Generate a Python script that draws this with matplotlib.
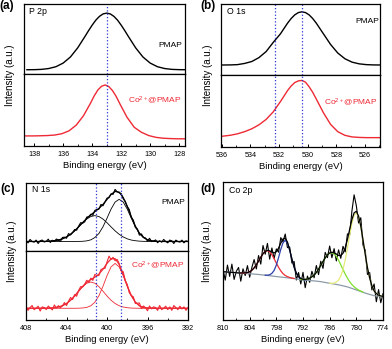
import matplotlib
matplotlib.use('Agg')
import matplotlib.pyplot as plt
from matplotlib.ticker import MultipleLocator

plt.rcParams['font.family'] = ['Liberation Sans', 'DejaVu Sans']
plt.rcParams['mathtext.fontset'] = 'custom'
plt.rcParams['mathtext.rm'] = 'Liberation Sans'
plt.rcParams['mathtext.it'] = 'Liberation Sans:italic'
plt.rcParams['mathtext.bf'] = 'Liberation Sans:bold'

# ---------------- data ----------------
# (a) P 2p
a_x_pmap = [138.5, 138.0, 137.5, 137.0, 136.5, 136.0, 135.5, 135.0,
            134.5, 134.25, 134.0, 133.75, 133.5, 133.25, 133.0, 132.75, 132.5, 132.25, 132.0, 131.75, 131.5,
            131.0, 130.5, 130.0, 129.5, 129.0, 128.5, 128.0, 127.5]
a_pmap = [.061, .062, .066, .078, .104, .156, .243, .373,
          .535, .619, .698, .769, .823, .858, .870, .858, .823, .769, .698, .619, .535,
          .373, .243, .156, .104, .078, .066, .062, .061]
a_x_co = [138.6, 138.1, 137.6, 137.1, 136.6, 136.1, 135.6, 135.1, 134.6, 134.1,
          133.85, 133.6, 133.35, 133.1, 132.85, 132.6, 132.35, 132.1,
          131.6, 131.1, 130.6, 130.1, 129.6, 129.1, 128.6, 128.1, 127.6]
a_co = [.140, .140, .142, .145, .152, .170, .210, .290, .420, .600,
        .700, .780, .830, .848, .825, .770, .690, .590,
        .400, .260, .190, .145, .120, .108, .103, .100, .100]
a_lines = [133.0]

# (b) O 1s
b_x = [536.4, 535.9, 535.4, 534.9, 534.4, 533.9, 533.4, 532.9, 532.4, 531.9, 531.4,
       531.15, 530.9, 530.65, 530.4, 530.15, 529.9, 529.65,
       529.4, 528.9, 528.4, 527.9, 527.4, 526.9, 526.4, 525.9, 525.4, 524.9]
b_pmap = [.140, .141, .142, .146, .163, .190, .245, .330, .460, .580, .731,
          .796, .847, .879, .890, .879, .847, .796,
          .731, .580, .430, .310, .229, .181, .157, .146, .142, .141]
b_co = [.145, .151, .163, .183, .213, .253, .308, .383, .489, .631, .785,
        .848, .895, .918, .925, .900, .837, .760,
        .667, .476, .314, .213, .162, .140, .133, .130, .130, .130]
b_lines = [532.3, 530.4]

# (c) N 1s
c_fit_x = [408.0, 407.6, 407.2, 406.8, 406.4, 406.0, 405.6, 405.2, 404.8, 404.4, 404.0,
           403.6, 403.2, 402.8, 402.4, 402.0, 401.6, 401.2, 400.8, 400.4, 400.0,
           399.6, 399.2, 398.8, 398.4, 398.0, 397.6, 397.2, 396.8, 396.4, 396.0,
           395.6, 395.2, 394.8, 394.4, 394.0, 393.6, 393.2, 392.8, 392.4, 392.0]
c_pmap_p1 = [.140] * 13 + [.141, .143, .149, .164, .198, .258, .355, .482, .616, .720, .760,
                           .720, .616, .482, .355, .258, .198, .164, .149, .143, .141] + [.140] * 7
c_pmap_p2 = [.140] * 4 + [.141, .142, .145, .151, .161, .179, .207, .246, .296, .355, .416, .470,
                          .507, .520, .507, .470, .416, .355, .296, .246, .207, .179, .161, .151,
                          .145, .142, .141] + [.140] * 10
c_pmap_env = [.140] * 4 + [.141, .142, .145, .151, .161, .179, .207, .246, .296, .356, .419, .479,
                           .531, .578, .625, .685, .758, .831, .876, .866, .787, .655, .503, .366,
                           .263, .200, .165, .149, .143, .141] + [.140] * 7
c_co_p1 = [.170] * 13 + [.171, .174, .183, .206, .258, .351, .487, .642, .770, .820,
                         .770, .642, .487, .351, .258, .206, .183, .174, .171] + [.170] * 9
c_co_p2 = [.170] * 5 + [.171, .173, .178, .188, .207, .239, .286, .348, .418, .484, .533, .550,
                        .533, .484, .418, .348, .286, .239, .207, .188, .178, .173, .171] + [.170] * 13
c_co_env = [.170] * 5 + [.171, .173, .178, .188, .207, .239, .286, .348, .419, .488, .546, .586,
                         .621, .665, .735, .820, .886, .889, .807, .660, .495, .354, .259, .206,
                         .183, .174, .171] + [.170] * 9
c_raw_x = [408.0, 407.8, 407.6, 407.4, 407.2, 407.0, 406.8, 406.6, 406.4, 406.2,
           406.0, 405.8, 405.6, 405.4, 405.2, 405.0, 404.8, 404.6, 404.4, 404.2,
           404.0, 403.8, 403.6, 403.4, 403.2, 403.0, 402.8, 402.6, 402.4, 402.2,
           402.0, 401.8, 401.6, 401.4, 401.2, 401.0, 400.8, 400.6, 400.4, 400.2,
           400.0, 399.8, 399.6, 399.4, 399.2, 399.0, 398.8, 398.6, 398.4, 398.2,
           398.0, 397.8, 397.6, 397.4, 397.2, 397.0, 396.8, 396.6, 396.4, 396.2,
           396.0, 395.8, 395.6, 395.4, 395.2, 395.0, 394.8, 394.6, 394.4, 394.2,
           394.0, 393.8, 393.6, 393.4, 393.2, 393.0, 392.8, 392.6, 392.4, 392.2,
           392.0]
c_pmap_raw = [.150, .120, .170, .140, .130, .160, .110, .151, .161, .132,
              .142, .174, .125, .158, .141, .176, .161, .140, .199, .203,
              .187, .256, .236, .271, .316, .306, .366, .417, .409, .429,
              .499, .505, .541, .524, .598, .611, .615, .685, .665, .721,
              .778, .784, .841, .833, .906, .871, .856, .846, .767, .731,
              .655, .609, .493, .454, .346, .324, .233, .251, .200, .192,
              .145, .187, .139, .146, .163, .122, .151, .130, .170, .140,
              .120, .160, .150, .110, .160, .140, .130, .160, .120, .150,
              .140]
c_co_raw = [.190, .140, .180, .210, .150, .170, .200, .130, .190, .181,
            .151, .202, .173, .146, .218, .173, .208, .178, .207, .253,
            .209, .273, .326, .297, .368, .344, .429, .484, .478, .517,
            .576, .546, .606, .574, .661, .643, .645, .730, .745, .748,
            .840, .926, .876, .908, .859, .878, .817, .714, .700, .568,
            .515, .395, .354, .337, .239, .243, .246, .165, .203, .179,
            .134, .203, .161, .191, .180, .140, .210, .150, .170, .200,
            .150, .190, .140, .210, .180, .150, .200, .160, .190, .140,
            .180]
c_lines = [401.1, 398.6]

# (d) Co 2p
d_x = [810.0, 809.5, 809.0, 808.5, 808.0, 807.5, 807.0, 806.5, 806.0, 805.5,
       805.0, 804.5, 804.0, 803.5, 803.0, 802.5, 802.0, 801.5, 801.0, 800.5,
       800.0, 799.5, 799.0, 798.5, 798.0, 797.5, 797.0, 796.5, 796.0, 795.5,
       795.0, 794.5, 794.0, 793.5, 793.0, 792.5, 792.0, 791.5, 791.0, 790.5,
       790.0, 789.5, 789.0, 788.5, 788.0, 787.5, 787.0, 786.5, 786.0, 785.5,
       785.0, 784.5, 784.0, 783.5, 783.0, 782.5, 782.0, 781.5, 781.0, 780.5,
       780.0, 779.5, 779.0, 778.5, 778.0, 777.5, 777.0, 776.5, 776.0, 775.5,
       775.0, 774.5, 774.0]
d_raw = [.370, .289, .398, .316, .405, .294, .353, .381, .281, .371,
         .322, .394, .310, .381, .438, .370, .467, .405, .540, .477,
         .555, .441, .522, .446, .515, .491, .597, .567, .623, .525,
         .529, .413, .424, .290, .344, .261, .345, .234, .318, .273,
         .353, .306, .395, .329, .426, .374, .490, .452, .536, .451,
         .517, .428, .508, .447, .534, .493, .624, .618, .788, .907,
         .828, .703, .741, .542, .506, .330, .344, .218, .261, .132,
         .220, .125, .191]
d_env = [.350, .349, .3475, .346, .345, .344, .3425, .341, .341, .341,
         .3415, .344, .350, .361, .3775, .400, .427, .455, .480, .497,
         .5045, .501, .492, .486, .495, .521, .557, .587, .5925, .565,
         .509, .443, .384, .3395, .314, .3005, .295, .294, .2975, .303,
         .313, .326, .3445, .369, .396, .424, .450, .472, .486, .491,
         .4865, .478, .468, .467, .4835, .523, .584, .6575, .728, .7765,
         .788, .753, .6805, .582, .476, .380, .3035, .248, .211, .1915,
         .180, .1745, .171]
d_base_x = [810, 806, 802, 798, 794, 792, 790, 788, 786, 784, 782, 780, 778, 776, 774]
d_base = [.350, .340, .330, .315, .300, .290, .285, .278, .266, .255, .240, .218, .195, .176, .170]
d_red_x = [806.0, 805.5, 805.0, 804.5, 804.0, 803.5, 803.0, 802.5, 802.0, 801.5, 801.0, 800.5, 800.0,
           799.5, 799.0, 798.5, 798.0, 797.5, 797.0, 796.5, 796.0, 795.5, 795.0, 794.5, 794.0]
d_red = [.341, .341, .3415, .344, .350, .361, .3775, .400, .427, .455, .480, .497, .5025,
         .494, .473, .444, .412, .382, .356, .336, .3225, .314, .308, .304, .301]
d_blue_x = [800.5, 800.0, 799.5, 799.0, 798.5, 798.0, 797.5, 797.0, 796.5, 796.0,
            795.5, 795.0, 794.5, 794.0, 793.5, 793.0, 792.5, 792.0, 791.5]
d_blue = [.325, .3245, .328, .338, .359, .398, .452, .512, .560, .5775,
          .557, .505, .441, .383, .3395, .314, .2995, .292, .290]
d_green_x = [792.5, 792.0, 791.5, 791.0, 790.5, 790.0, 789.5, 789.0, 788.5, 788.0,
             787.5, 787.0, 786.5, 786.0, 785.5, 785.0, 784.5, 784.0, 783.5, 783.0,
             782.5, 782.0, 781.5, 781.0, 780.5, 780.0, 779.5, 779.0, 778.5]
d_green = [.2935, .293, .294, .2975, .303, .313, .326, .3445, .369, .396,
           .424, .450, .472, .485, .488, .4795, .461, .433, .400, .3655,
           .333, .303, .2775, .257, .2405, .228, .217, .2095, .202]
d_yellow_x = [786.0, 785.5, 785.0, 784.5, 784.0, 783.5, 783.0, 782.5, 782.0, 781.5, 781.0, 780.5, 780.0,
              779.5, 779.0, 778.5, 778.0, 777.5, 777.0, 776.5, 776.0, 775.5, 775.0, 774.5, 774.0]
d_yellow = [.267, .266, .2675, .275, .290, .318, .3655, .434, .521, .6145, .700, .7595, .778,
            .748, .6775, .581, .476, .380, .304, .248, .211, .1915, .180, .1745, .171]

# ---------------- style ----------------
RED = '#ee2a35'
BLUE_DOT = '#2b35d8'
W, H = 392, 349
fig = plt.figure(figsize=(W / 100, H / 100), dpi=100)


def ax_px(l, t, r, b):
    return fig.add_axes([l / W, 1 - b / H, (r - l) / W, (b - t) / H])


def style(ax, xlim, major, minor, labels=True):
    ax.set_xlim(*xlim)
    ax.set_ylim(0, 1)
    ax.set_yticks([])
    for s in ax.spines.values():
        s.set_linewidth(0.9)
    ax.xaxis.set_major_locator(MultipleLocator(major))
    ax.xaxis.set_minor_locator(MultipleLocator(minor))
    ax.tick_params(axis='x', which='major', direction='in', length=2.5, width=0.7,
                   labelsize=5.2, pad=3.5)
    ax.tick_params(axis='x', which='minor', direction='in', length=1.4, width=0.6)
    if labels:
        ax.set_xlabel('Binding energy (eV)', fontsize=6.8, labelpad=2)
    else:
        ax.tick_params(axis='x', which='both', bottom=False, labelbottom=False)


def vlines(axes, xs):
    for ax in axes:
        for x in xs:
            ax.axvline(x, color=BLUE_DOT, ls=':', lw=0.9)


co_label = 'Co$^{\\rm 2+}$@PMAP'

# ---- (a)
a1 = ax_px(24, 4, 185, 74)
a2 = ax_px(24, 74, 185, 146)
a1.plot(a_x_pmap, a_pmap, color='black', lw=1.0)
a2.plot(a_x_co, a_co, color=RED, lw=1.0)
style(a1, (138.7, 127.6), 2, 1, labels=False)
style(a2, (138.7, 127.6), 2, 1)
vlines([a1, a2], a_lines)
a1.text(0.03, 0.9, 'P 2p', transform=a1.transAxes, fontsize=6.3, va='center')
a1.text(0.98, 0.41, 'PMAP', transform=a1.transAxes, fontsize=6, ha='right', va='center')
a2.text(0.98, 0.64, co_label, transform=a2.transAxes, fontsize=6, ha='right', va='center', color=RED)

# ---- (b)
b1 = ax_px(221, 4, 380, 75)
b2 = ax_px(221, 75, 380, 147)
b1.plot(b_x, b_pmap, color='black', lw=1.0)
b2.plot(b_x, b_co, color=RED, lw=1.0)
style(b1, (536.05, 524.95), 2, 1, labels=False)
style(b2, (536.05, 524.95), 2, 1)
vlines([b1, b2], b_lines)
b1.text(0.04, 0.9, 'O 1s', transform=b1.transAxes, fontsize=6.3, va='center')
b1.text(0.995, 0.75, 'PMAP', transform=b1.transAxes, fontsize=6, ha='right', va='center')
b2.text(0.985, 0.62, co_label, transform=b2.transAxes, fontsize=6, ha='right', va='center', color=RED)

# ---- (c)
c1 = ax_px(26, 183, 188, 251)
c2 = ax_px(26, 251, 188, 320)
c1.plot(c_raw_x, c_pmap_raw, color='black', lw=0.8)
c1.plot(c_fit_x, c_pmap_p1, color='black', lw=0.6)
c1.plot(c_fit_x, c_pmap_p2, color='black', lw=0.6)
c1.plot(c_fit_x, c_pmap_env, color='black', lw=0.9)
c2.plot(c_raw_x, c_co_raw, color=RED, lw=0.8)
c2.plot(c_fit_x, c_co_p1, color=RED, lw=0.6)
c2.plot(c_fit_x, c_co_p2, color=RED, lw=0.6)
c2.plot(c_fit_x, c_co_env, color=RED, lw=0.9)
style(c1, (408, 392), 4, 2, labels=False)
style(c2, (408, 392), 4, 2)
vlines([c1, c2], c_lines)
c1.text(0.04, 0.9, 'N 1s', transform=c1.transAxes, fontsize=6.3, va='center')
c1.text(0.98, 0.72, 'PMAP', transform=c1.transAxes, fontsize=6, ha='right', va='center')
c2.text(0.98, 0.80, co_label, transform=c2.transAxes, fontsize=6, ha='right', va='center', color=RED)

# ---- (d)
d = ax_px(223, 182, 383, 320)
d.plot(d_x, d_raw, color='black', lw=0.8)
d.plot(d_base_x, d_base, color='#8c9ba8', lw=0.9)
d.plot(d_red_x, d_red, color='#ee2a35', lw=0.9)
d.plot(d_blue_x, d_blue, color='#2b3faa', lw=0.9)
d.plot(d_green_x, d_green, color='#7ee02c', lw=0.9)
d.plot(d_yellow_x, d_yellow, color='#e6ec7c', lw=0.9)
d.plot(d_x, d_env, color='black', lw=0.9)
style(d, (810, 774), 6, 3)
d.text(0.04, 0.94, 'Co 2p', transform=d.transAxes, fontsize=6.3, va='center')

# ---- labels
for x, y in [(10, 75), (208, 75), (12, 251), (207, 251)]:
    fig.text(x / W, 1 - y / H, 'Intensity (a.u.)', rotation=90, fontsize=7,
             ha='center', va='center')
for x, y, s in [(7, 6, '(a)'), (208, 6, '(b)'), (8, 189, '(c)'), (208, 189, '(d)')]:
    fig.text(x / W, 1 - y / H, s, fontsize=8.5, fontweight='bold', ha='center', va='center')

fig.savefig('out.png', dpi=100)
